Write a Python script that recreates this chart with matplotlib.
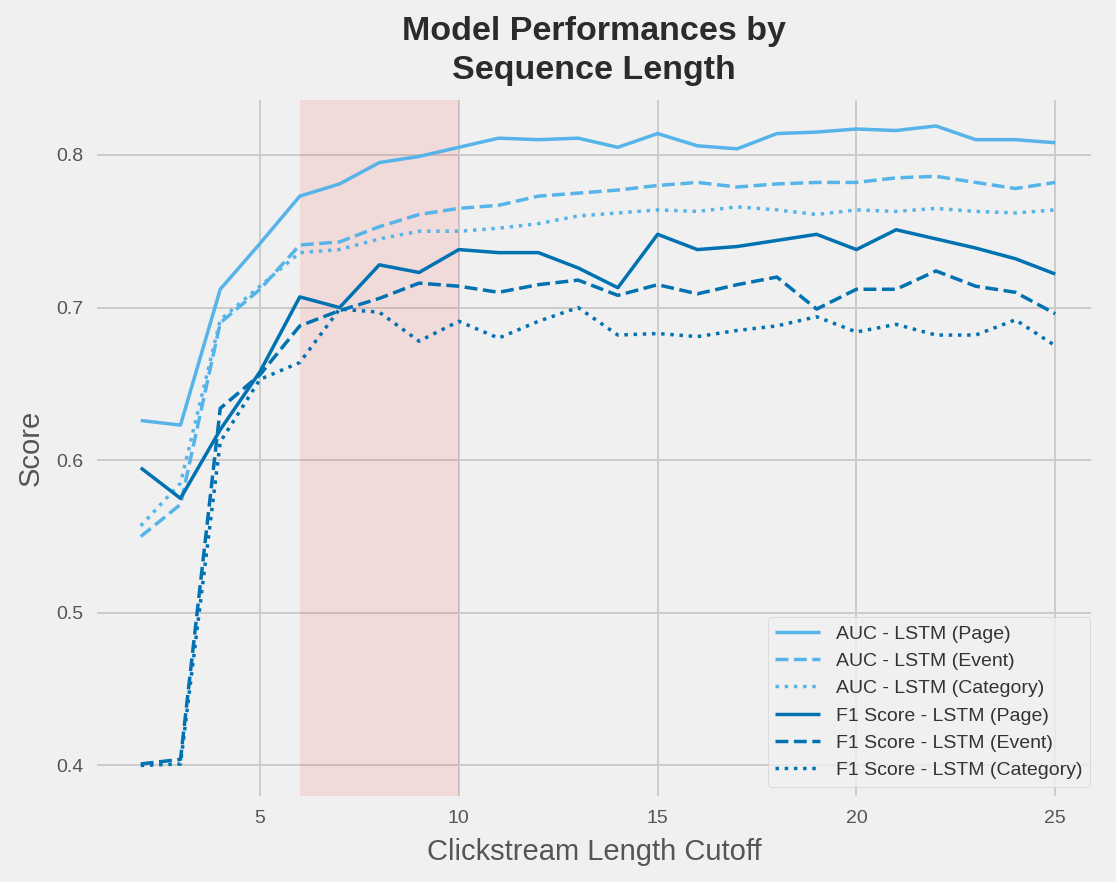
import numpy as np
import matplotlib.pyplot as plt

plt.style.use('fivethirtyeight')
plt.rcParams['font.family'] = ['Liberation Sans', 'DejaVu Sans']

# sequence length cutoffs
cutoff = np.arange(2, 26)

auc_page = [0.626, 0.623, 0.712, 0.742, 0.773, 0.781, 0.795, 0.799, 0.805,
            0.811, 0.810, 0.811, 0.805, 0.814, 0.806, 0.804, 0.814, 0.815,
            0.817, 0.816, 0.819, 0.810, 0.810, 0.808]
auc_event = [0.550, 0.571, 0.690, 0.712, 0.741, 0.743, 0.753, 0.761, 0.765,
             0.767, 0.773, 0.775, 0.777, 0.780, 0.782, 0.779, 0.781, 0.782,
             0.782, 0.785, 0.786, 0.782, 0.778, 0.782]
auc_category = [0.557, 0.585, 0.692, 0.714, 0.736, 0.738, 0.745, 0.750, 0.750,
                0.752, 0.755, 0.760, 0.762, 0.764, 0.763, 0.766, 0.764, 0.761,
                0.764, 0.763, 0.765, 0.763, 0.762, 0.764]
f1_page = [0.595, 0.575, 0.620, 0.658, 0.707, 0.700, 0.728, 0.723, 0.738,
           0.736, 0.736, 0.726, 0.713, 0.748, 0.738, 0.740, 0.744, 0.748,
           0.738, 0.751, 0.745, 0.739, 0.732, 0.722]
f1_event = [0.401, 0.404, 0.634, 0.656, 0.688, 0.698, 0.706, 0.716, 0.714,
            0.710, 0.715, 0.718, 0.708, 0.715, 0.709, 0.715, 0.720, 0.699,
            0.712, 0.712, 0.724, 0.714, 0.710, 0.696]
f1_category = [0.400, 0.401, 0.612, 0.653, 0.664, 0.699, 0.697, 0.678, 0.691,
               0.680, 0.691, 0.700, 0.682, 0.683, 0.681, 0.685, 0.688, 0.694,
               0.684, 0.689, 0.682, 0.682, 0.692, 0.675]

light = '#56b4e9'
dark = '#0072b2'

fig = plt.figure(figsize=(11.16, 8.82), dpi=100, facecolor='#f0f0f0')
ax = fig.add_axes([97/1116, 86/882, 994/1116, 696/882])
ax.set_facecolor('#f0f0f0')

ax.axvspan(6, 10, color='red', alpha=0.09, lw=0, zorder=1)

lw = 2.5
ax.plot(cutoff, auc_page, color=light, ls='-', lw=lw, label='AUC - LSTM (Page)')
ax.plot(cutoff, auc_event, color=light, ls='--', lw=lw, label='AUC - LSTM (Event)')
ax.plot(cutoff, auc_category, color=light, ls=':', lw=lw, label='AUC - LSTM (Category)')
ax.plot(cutoff, f1_page, color=dark, ls='-', lw=lw, label='F1 Score - LSTM (Page)')
ax.plot(cutoff, f1_event, color=dark, ls='--', lw=lw, label='F1 Score - LSTM (Event)')
ax.plot(cutoff, f1_category, color=dark, ls=':', lw=lw, label='F1 Score - LSTM (Category)')

ax.set_xlim(0.9, 25.9)
ax.set_ylim(0.38, 0.836)
ax.set_xticks([5, 10, 15, 20, 25])
ax.set_yticks([0.4, 0.5, 0.6, 0.7, 0.8])
ax.set_yticklabels(['0.4', '0.5', '0.6', '0.7', '0.8'])
ax.grid(True, color='#cbcbcb', lw=1.4)
ax.tick_params(axis='both', labelsize=14, labelcolor='#555555', length=0, pad=10)
for s in ax.spines.values():
    s.set_visible(False)

ax.set_xlabel('Clickstream Length Cutoff', fontsize=21, color='#555555', labelpad=8)
ax.set_ylabel('Score', fontsize=21, color='#555555', labelpad=8)
ax.set_title('Model Performances by\nSequence Length', fontsize=24.5, fontweight='bold',
             color='#2b2b2b', linespacing=1.32, pad=15)

leg = ax.legend(loc='lower right', bbox_to_anchor=(0.999, 0.013), fontsize=14,
                frameon=True, facecolor='#f0f0f0', edgecolor='#cccccc',
                labelspacing=0.5, handlelength=2.3, borderaxespad=0)
for t in leg.get_texts():
    t.set_color('#333333')

fig.savefig('out.png', dpi=100, facecolor=fig.get_facecolor())
